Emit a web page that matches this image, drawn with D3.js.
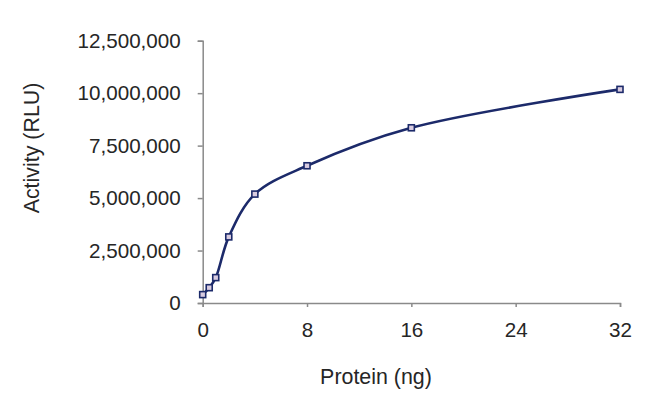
<!DOCTYPE html>
<html>
<head>
<meta charset="utf-8">
<script src="https://cdn.jsdelivr.net/npm/d3@7"></script>
<style>
	body { margin: 0; background: #fff; }
	text { font-family: "Liberation Sans", Arial, sans-serif; fill: #262626; }
</style>
</head>
<body>
<div id="chart"></div>
<script>
'use strict';

// data
var protein = [0, 0.5, 1, 2, 4, 8, 16, 32];
var activity = [400000, 730000, 1210000, 3150000, 5190000, 6540000, 8350000, 10180000];
var xTicks = [0, 8, 16, 24, 32];
var yTicks = [0, 2500000, 5000000, 7500000, 10000000, 12500000];

main();

function main(){
	//configuration
	var width = 650,
		height = 401,
		margin = {
			top: 40.7,
			left: 202.7,
			bottom: 98,
			right: 30
		},
		lineColor = '#1c2a6a',
		axisColor = '#8a8a8a';

	var points = protein.map(function(p, i){
		return { x: p, y: activity[i] };
	});

	var x = d3.scaleLinear()
		.domain([0, 32])
		.range([margin.left, width - margin.right]);

	var y = d3.scaleLinear()
		.domain([0, 12500000])
		.range([height - margin.bottom, margin.top]);

	var svg = d3.select('#chart')
		.append('svg')
			.attr('width', width)
			.attr('height', height);

	// y axis
	var yAxis = svg.append('g')
		.attr('transform', 'translate(' + x(0) + ',0)')
		.call(d3.axisLeft(y)
			.tickValues(yTicks)
			.tickSize(5)
			.tickPadding(17)
			.tickFormat(d3.format(',')));

	// x axis
	var xAxis = svg.append('g')
		.attr('transform', 'translate(0,' + y(0) + ')')
		.call(d3.axisBottom(x)
			.tickValues(xTicks)
			.tickSize(4)
			.tickPadding(15)
			.tickFormat(d3.format('d')));

	[yAxis, xAxis].forEach(function(g){
		g.select('.domain')
			.attr('stroke', axisColor)
			.attr('stroke-width', 1.5);
		g.selectAll('.tick line')
			.attr('stroke', axisColor)
			.attr('stroke-width', 1.5);
		g.selectAll('.tick text')
			.style('font-size', '20.6px')
			.attr('fill', '#262626')
			.style('font-family', '"Liberation Sans", Arial, sans-serif');
	});

	// curve
	var line = d3.line()
		.x(function(d){ return x(d.x); })
		.y(function(d){ return y(d.y); })
		.curve(d3.curveCatmullRom.alpha(0.5));

	svg.append('path')
		.datum(points)
		.attr('d', line)
		.attr('fill', 'none')
		.attr('stroke', lineColor)
		.attr('stroke-width', 2.6);

	svg.selectAll('.mark')
		.data(points)
		.enter()
		.append('rect')
			.attr('class', 'mark')
			.attr('x', function(d){ return x(d.x) - 3; })
			.attr('y', function(d){ return y(d.y) - 3; })
			.attr('width', 6)
			.attr('height', 6)
			.attr('fill', '#d9cce0')
			.attr('stroke', lineColor)
			.attr('stroke-width', 1.6);

	// axis titles
	svg.append('text')
		.attr('x', 376)
		.attr('y', 384)
		.attr('text-anchor', 'middle')
		.style('font-size', '21.4px')
		.text('Protein (ng)');

	svg.append('text')
		.attr('transform', 'translate(39,148) rotate(-90)')
		.attr('text-anchor', 'middle')
		.style('font-size', '21.4px')
		.text('Activity (RLU)');
}
</script>
</body>
</html>
